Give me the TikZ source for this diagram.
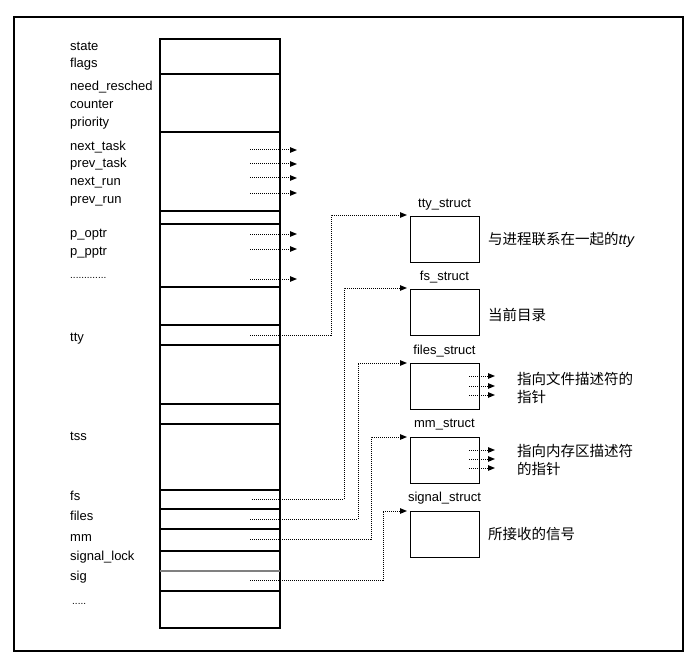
\documentclass[tikz,border=0pt]{standalone}
\usepackage{fontspec}
\setmainfont{Liberation Sans}
\newfontfamily\cjk{Noto Sans CJK SC}
\usetikzlibrary{arrows.meta}
\begin{document}
\begin{tikzpicture}[x=1pt,y=-1pt,
  lbl/.style={anchor=west,inner sep=0pt,font=\fontsize{13}{15}\selectfont,text height=9pt,text depth=2.5pt},
  slbl/.style={anchor=center,inner sep=0pt,font=\fontsize{13}{15}\selectfont,text height=9pt,text depth=2.5pt},
  cn/.style={anchor=west,inner sep=0pt,font=\cjk\fontsize{14.5}{18}\selectfont,align=left},
  sbox/.style={draw,line width=1.2pt,minimum width=69pt,minimum height=46pt,inner sep=0pt,anchor=north west},
  ptr/.style={line width=1pt,dash pattern=on 1pt off 1pt,-{Triangle[length=7pt,width=5.5pt]}},
  cell/.style={line width=1.3pt},
  frame/.style={line width=1.6pt}]
\useasboundingbox (0,0) rectangle (699,658);
% outer frame
\draw[frame] (14,17) rectangle (683,651);
% task_struct column
\draw[cell] (160,39) rectangle (280,628);
\foreach \yy in {74,132,211,224,287,325,345,404,424,490,509,529,551,591}
  \draw[cell] (160,\yy) -- (280,\yy);
\draw[line width=1.3pt,gray] (160,571) -- (280,571);
% field labels
\node[lbl] (l-state) at (70,47) {state};
\node[lbl] (l-flags) at (70,64) {flags};
\node[lbl] (l-need) at (70,87) {need\_resched};
\node[lbl] (l-counter) at (70,105) {counter};
\node[lbl] (l-prio) at (70,123) {priority};
\node[lbl] (l-nt) at (70,147) {next\_task};
\node[lbl] (l-pt) at (70,164) {prev\_task};
\node[lbl] (l-nr) at (70,182) {next\_run};
\node[lbl] (l-pr) at (70,200) {prev\_run};
\node[lbl] (l-po) at (70,234) {p\_optr};
\node[lbl] (l-pp) at (70,252) {p\_pptr};
\node[lbl] (l-dots) at (70,275) {\fontsize{10}{12}\selectfont .............};
\node[lbl] (l-tty) at (70,338) {tty};
\node[lbl] (l-tss) at (70,437) {tss};
\node[lbl] (l-fs) at (70,497) {fs};
\node[lbl] (l-files) at (70,517) {files};
\node[lbl] (l-mm) at (70,538) {mm};
\node[lbl] (l-sl) at (70,557) {signal\_lock};
\node[lbl] (l-sig) at (70,577) {sig};
\node[lbl] (l-end) at (72,601) {\fontsize{10}{12}\selectfont .....};
% pointer starts / ends in column
\foreach \nm/\yy in {nt/150,pt/164,nr/178,pr/193,po/234,pp/249,pd/279}{
  \coordinate (s-\nm) at (250,\yy);
  \coordinate (e-\nm) at (297,\yy);
  \draw[ptr] (s-\nm) -- (e-\nm);
}
% struct boxes
\node[sbox] (ttybox) at (410,216) {};
\node[sbox] (fsbox) at (410,289) {};
\node[sbox] (filesbox) at (410,363) {};
\node[sbox] (mmbox) at (410,437) {};
\node[sbox] (sigbox) at (410,511) {};
\node[slbl] (n-tty) at (444.5,204) {tty\_struct};
\node[slbl] (n-fs) at (444.5,277) {fs\_struct};
\node[slbl] (n-files) at (444.5,351) {files\_struct};
\node[slbl] (n-mm) at (444.5,424) {mm\_struct};
\node[slbl] (n-sig) at (444.5,498) {signal\_struct};
% descriptions
\node[cn] (d-tty) at (488,240) {与进程联系在一起的{\rmfamily\itshape tty}};
\node[cn] (d-fs) at (488,315) {当前目录};
\node[cn] (d-files) at (517,388) {指向文件描述符的\\指针};
\node[cn] (d-mm) at (517,460) {指向内存区描述符\\的指针};
\node[cn] (d-sig) at (488,534) {所接收的信号};
% connectors
\coordinate (c-tty) at (250,335);  \coordinate (t-tty) at (331,215);
\coordinate (c-fs) at (252,499);   \coordinate (t-fs) at (344,288);
\coordinate (c-files) at (250,519);\coordinate (t-files) at (358,363);
\coordinate (c-mm) at (250,539);   \coordinate (t-mm) at (371,437);
\coordinate (c-sig) at (250,580);  \coordinate (t-sig) at (383,511);
\draw[ptr,shorten >=3pt] (c-tty) -| (t-tty) -- (t-tty -| ttybox.west);
\draw[ptr,shorten >=3pt] (c-fs) -| (t-fs) -- (t-fs -| fsbox.west);
\draw[ptr,shorten >=3pt] (c-files) -| (t-files) -- (t-files -| filesbox.west);
\draw[ptr,shorten >=3pt] (c-mm) -| (t-mm) -- (t-mm -| mmbox.west);
\draw[ptr,shorten >=3pt] (c-sig) -| (t-sig) -- (t-sig -| sigbox.west);
% inner pointers
\foreach \nm/\yy in {f1/376,f2/386,f3/395,m1/450,m2/459,m3/468}{
  \coordinate (is-\nm) at (469,\yy);
  \coordinate (ie-\nm) at (495,\yy);
  \draw[ptr] (is-\nm) -- (ie-\nm);
}
\end{tikzpicture}
\end{document}
